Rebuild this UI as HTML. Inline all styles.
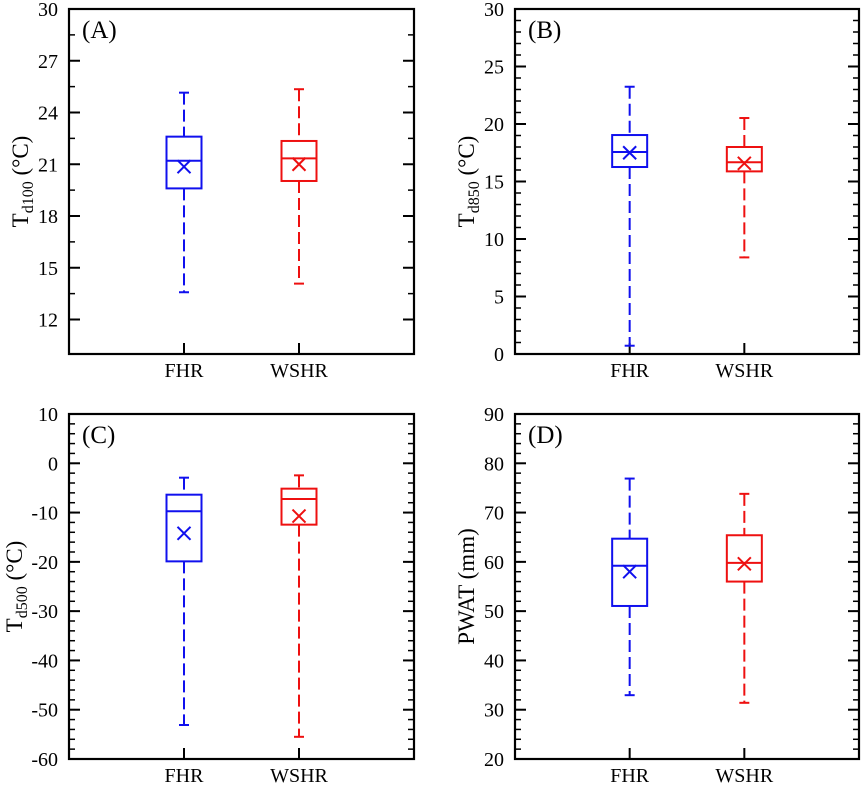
<!DOCTYPE html>
<html><head><meta charset="utf-8"><style>
html,body{margin:0;padding:0;background:#fff}
svg{display:block;font-family:"Liberation Serif",serif}
</style></head><body>
<svg id="fig" width="865" height="785" viewBox="0 0 865 785" xmlns="http://www.w3.org/2000/svg"></svg>
<script>
const categories = ["FHR","WSHR"];
const colors = ["#1010ee","#ee1010"];
// per panel: [whiskerHigh, q3, median, q1, whiskerLow, mean] for FHR, WSHR
const statsA_FHR = [25.15,22.6,21.2,19.6,13.58,20.86];
const statsA_WSHR = [25.35,22.35,21.34,20.03,14.08,21.0];
const statsB_FHR = [23.24,19.04,17.57,16.26,0.72,17.5];
const statsB_WSHR = [20.52,18.0,16.67,15.88,8.4,16.58];
const statsC_FHR = [-2.92,-6.37,-9.74,-19.9,-53.1,-14.2];
const statsC_WSHR = [-2.45,-5.15,-7.24,-12.45,-55.5,-10.7];
const statsD_FHR = [76.9,64.7,59.2,51.05,32.95,58.0];
const statsD_WSHR = [73.8,65.4,59.8,56.0,31.4,59.6];
const ticksA = [12,15,18,21,24,27,30];
const ticksB = [0,5,10,15,20,25,30];
const ticksC = [-60,-50,-40,-30,-20,-10,0,10];
const ticksD = [20,30,40,50,60,70,80,90];

const NS="http://www.w3.org/2000/svg";
const svg=document.getElementById('fig');
function mk(tag,attrs,parent){const e=document.createElementNS(NS,tag);for(const k in attrs)e.setAttribute(k,attrs[k]);(parent||svg).appendChild(e);return e;}

const panels=[
 {id:'a',label:'(A)',x0:69,x1:414,y0:9,y1:354,min:10,max:30,ticks:ticksA,minor:1.5,stats:[statsA_FHR,statsA_WSHR],ylab:['T','d100',' (°C)'],labx:20},
 {id:'b',label:'(B)',x0:515,x1:859,y0:9,y1:354,min:0,max:30,ticks:ticksB,minor:1,stats:[statsB_FHR,statsB_WSHR],ylab:['T','d850',' (°C)'],labx:466},
 {id:'c',label:'(C)',x0:69,x1:414,y0:414,y1:759,min:-60,max:10,ticks:ticksC,minor:2,stats:[statsC_FHR,statsC_WSHR],ylab:['T','d500',' (°C)'],labx:14},
 {id:'d',label:'(D)',x0:515,x1:859,y0:414,y1:759,min:20,max:90,ticks:ticksD,minor:2,stats:[statsD_FHR,statsD_WSHR],ylab:['PWAT (mm)'],labx:466}
];

panels.forEach(p=>{
  const g=mk('g',{});
  
  
  const y=v=>p.y1-(v-p.min)/(p.max-p.min)*(p.y1-p.y0);
  const x=i=>p.x0+(p.x1-p.x0)*(i+1)/3;
  const ming=mk('g',{stroke:'#000','stroke-width':1.5},g);
  
  
  const n=Math.round((p.max-p.min)/p.minor);
  for(let k=1;k<n;k++){const v=p.max-k*p.minor;const yy=y(v);
    mk('line',{x1:p.x0,x2:p.x0+6,y1:yy,y2:yy},ming);
    mk('line',{x1:p.x1,x2:p.x1-6,y1:yy,y2:yy},ming);}
  p.ticks.forEach(t=>{const yy=y(t);
    mk('line',{x1:p.x0,x2:p.x0+11,y1:yy,y2:yy,stroke:'#000','stroke-width':2},g);
    mk('line',{x1:p.x1,x2:p.x1-11,y1:yy,y2:yy,stroke:'#000','stroke-width':2},g);
    const tl=mk('text',{x:p.x0-11,y:yy+7,'text-anchor':'end','font-size':20,fill:'#000'},g);
    
    
    tl.textContent=t;});
  const fr=mk('rect',{x:p.x0,y:p.y0,width:p.x1-p.x0,height:p.y1-p.y0,fill:'none',stroke:'#000','stroke-width':2.2},g);
  
  
  const pl=mk('text',{x:p.x0+13,y:p.y0+29,'font-size':25,fill:'#000'},g);
  
  
  pl.textContent=p.label;
  const cy=(p.y0+p.y1)/2;
  const yt=mk('text',{transform:`translate(${p.labx+8},${cy}) rotate(-90)`,'text-anchor':'middle','font-size':23,fill:'#000'},g);
  
  
  if(p.ylab.length===1){yt.textContent=p.ylab[0];}
  else{const a=mk('tspan',{},yt);a.textContent=p.ylab[0];
    const b=mk('tspan',{'font-size':16,dy:5},yt);b.textContent=p.ylab[1];
    const c=mk('tspan',{dy:-5},yt);c.textContent=p.ylab[2];}
  categories.forEach((cat,i)=>{
    const cx=x(i);
    mk('line',{x1:cx,x2:cx,y1:p.y1,y2:p.y1-11,stroke:'#000','stroke-width':2},g);
    const cl=mk('text',{x:cx,y:p.y1+23,'text-anchor':'middle','font-size':20,fill:'#000'},g);
    
    
    cl.textContent=cat;
    const s=p.stats[i];const col=colors[i];
    const bg=mk('g',{stroke:col,'stroke-width':2,fill:'none'},g);
    
    
    const hw=17.5,cw=5;
    mk('line',{x1:cx,x2:cx,y1:y(s[0]),y2:y(s[1]),'stroke-dasharray':'12 5'},bg);
    mk('line',{x1:cx,x2:cx,y1:y(s[3]),y2:y(s[4]),'stroke-dasharray':'12 5'},bg);
    mk('line',{x1:cx-cw,x2:cx+cw,y1:y(s[0]),y2:y(s[0])},bg);
    mk('line',{x1:cx-cw,x2:cx+cw,y1:y(s[4]),y2:y(s[4])},bg);
    mk('rect',{x:cx-hw,y:y(s[1]),width:2*hw,height:y(s[3])-y(s[1])},bg);
    mk('line',{x1:cx-hw,x2:cx+hw,y1:y(s[2]),y2:y(s[2])},bg);
    const my=y(s[5]),m=6.5;
    mk('path',{d:`M${cx-m},${my-m}L${cx+m},${my+m}M${cx-m},${my+m}L${cx+m},${my-m}`},bg);
  });
});
</script>
</body></html>
